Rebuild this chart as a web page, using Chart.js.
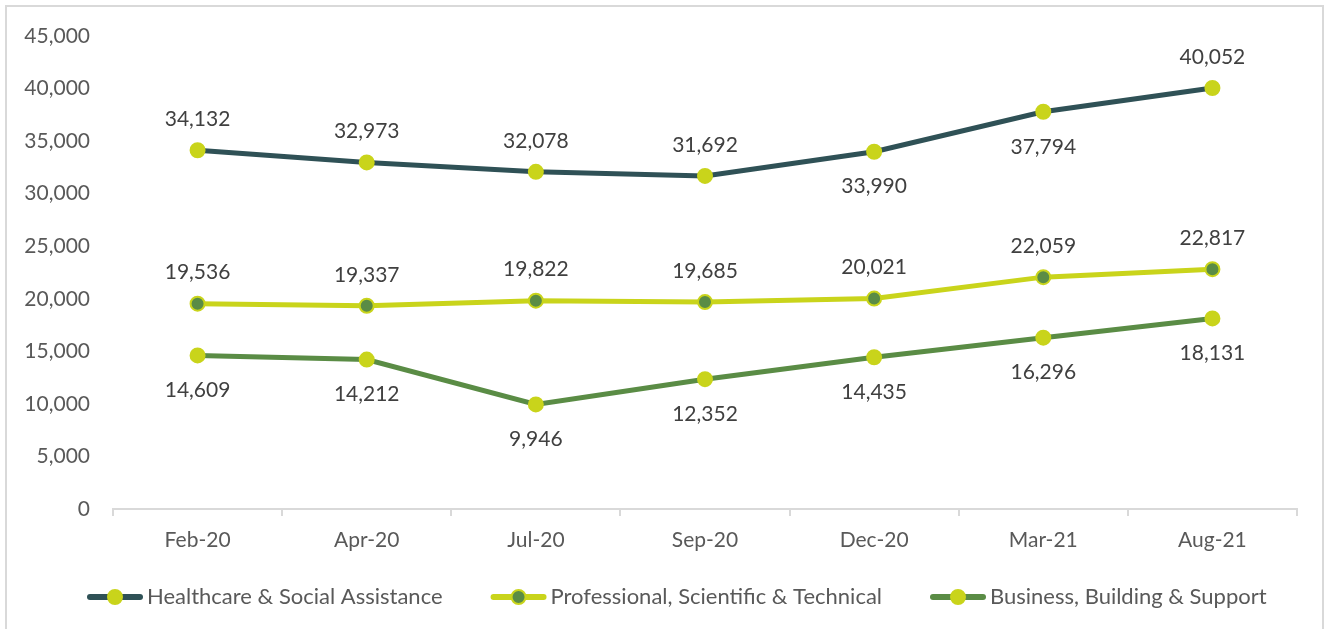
<!DOCTYPE html>
<html>
<head>
<meta charset="utf-8">
<script src="https://cdn.jsdelivr.net/npm/chart.js@4.4.1/dist/chart.umd.min.js"></script>
<style>
  html, body { margin: 0; padding: 0; background: #fff; overflow: hidden; }
  #wrap { position: relative; width: 1329px; height: 629px; }
  #frame { position: absolute; left: 5px; top: 5px; width: 1319px; height: 640px; border: 2px solid #d9d9d9; box-sizing: border-box; }
  #chart { position: absolute; left: 0; top: 0; }
</style>
</head>
<body>
<div id="wrap">
  <div id="frame"></div>
  <canvas id="chart" width="1329" height="629"></canvas>
</div>
<script>
const months = ['Feb-20', 'Apr-20', 'Jul-20', 'Sep-20', 'Dec-20', 'Mar-21', 'Aug-21'];

const healthcare = [34132, 32973, 32078, 31692, 33990, 37794, 40052];
const professional = [19536, 19337, 19822, 19685, 20021, 22059, 22817];
const business = [14609, 14212, 9946, 12352, 14435, 16296, 18131];

// where each point's value label sits
const healthcarePos = ['above', 'above', 'above', 'above', 'below', 'below', 'above'];
const professionalPos = ['above', 'above', 'above', 'above', 'above', 'above', 'above'];
const businessPos = ['below', 'below', 'below', 'below', 'below', 'below', 'below'];

const yTicks = [0, 5000, 10000, 15000, 20000, 25000, 30000, 35000, 40000, 45000];

const FONT = 'Lato, "Open Sans", sans-serif';
const TEAL = '#2f5156';
const LIME = '#c9d41b';
const GREEN = '#5a8c45';

const fmt = (v) => v.toLocaleString('en-US');

const valueLabels = {
  id: 'valueLabels',
  afterDatasetsDraw(chart) {
    const ctx = chart.ctx;
    ctx.save();
    ctx.font = `21px ${FONT}`;
    ctx.fillStyle = '#404040';
    ctx.textAlign = 'center';
    ctx.textBaseline = 'middle';
    chart.data.datasets.forEach((ds, i) => {
      const meta = chart.getDatasetMeta(i);
      meta.data.forEach((pt, j) => {
        const dy = ds.labelPos[j] === 'above' ? -31 : 35;
        ctx.fillText(fmt(ds.data[j]), pt.x, pt.y + dy);
      });
    });
    ctx.restore();
  }
};

const lineLegend = {
  id: 'lineLegend',
  afterDraw(chart) {
    const ctx = chart.ctx;
    const y = 597;
    let x = 87;
    ctx.save();
    ctx.font = `22px ${FONT}`;
    ctx.textBaseline = 'middle';
    chart.data.datasets.forEach((ds) => {
      ctx.strokeStyle = ds.borderColor;
      ctx.lineWidth = 6;
      ctx.lineCap = 'round';
      ctx.beginPath();
      ctx.moveTo(x + 3, y);
      ctx.lineTo(x + 53, y);
      ctx.stroke();
      ctx.beginPath();
      ctx.arc(x + 28, y, 7, 0, Math.PI * 2);
      ctx.fillStyle = ds.pointBackgroundColor;
      ctx.fill();
      ctx.lineWidth = 2;
      ctx.strokeStyle = ds.pointBorderColor;
      ctx.stroke();
      ctx.fillStyle = '#595959';
      ctx.textAlign = 'left';
      ctx.fillText(ds.label, x + 60, y);
      x += 60 + ctx.measureText(ds.label).width + 48;
    });
    ctx.restore();
  }
};

const mkSet = (label, data, pos, line, fill, border) => ({
  label,
  data,
  labelPos: pos,
  borderColor: line,
  borderWidth: 5,
  pointBackgroundColor: fill,
  pointBorderColor: border,
  pointBorderWidth: 2,
  pointRadius: 7,
  pointHoverRadius: 7,
  tension: 0,
  fill: false
});

new Chart(document.getElementById('chart'), {
  type: 'line',
  data: {
    labels: months,
    datasets: [
      mkSet('Healthcare & Social Assistance', healthcare, healthcarePos, TEAL, LIME, LIME),
      mkSet('Professional, Scientific & Technical', professional, professionalPos, LIME, GREEN, LIME),
      mkSet('Business, Building & Support', business, businessPos, GREEN, LIME, LIME)
    ]
  },
  options: {
    responsive: false,
    animation: false,
    layout: { padding: { left: 0, right: 32, top: 36, bottom: 0 } },
    plugins: {
      legend: { display: false },
      tooltip: { enabled: false }
    },
    scales: {
      x: {
        offset: true,
        afterFit: (s) => { s.height = 120; },
        grid: { display: true, drawOnChartArea: false, offset: true, color: '#d9d9d9', lineWidth: 2, tickLength: 7 },
        border: { display: true, color: '#d9d9d9', width: 2 },
        ticks: { color: '#595959', font: { family: FONT, size: 21 }, padding: 12 }
      },
      y: {
        min: 0,
        max: 45000,
        afterFit: (s) => { s.width = 113; },
        afterBuildTicks: (s) => { s.ticks = yTicks.map((v) => ({ value: v })); },
        grid: { display: false, drawTicks: false },
        border: { display: false },
        ticks: { color: '#595959', font: { family: FONT, size: 21 }, padding: 23, callback: (v) => fmt(v) }
      }
    }
  },
  plugins: [valueLabels, lineLegend]
});
</script>
</body>
</html>
